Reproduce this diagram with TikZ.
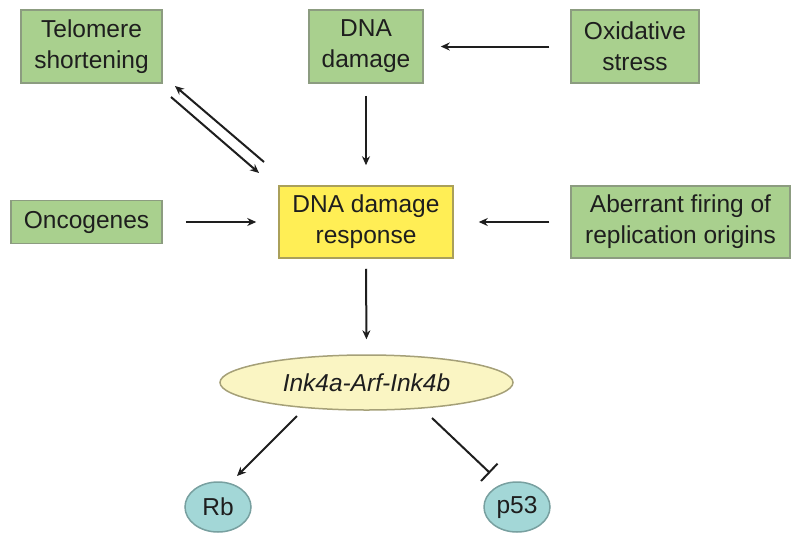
\documentclass[tikz,border=0pt]{standalone}
\usepackage{fontspec}
\setmainfont{Liberation Sans}
\usetikzlibrary{arrows.meta,shapes.geometric}
\definecolor{boxgreen}{RGB}{169,208,142}
\definecolor{boxedge}{RGB}{140,156,128}
\definecolor{ddryellow}{RGB}{255,238,85}
\definecolor{ddredge}{RGB}{170,160,90}
\definecolor{inkfill}{RGB}{250,245,195}
\definecolor{inkedge}{RGB}{165,160,120}
\definecolor{tealfill}{RGB}{163,215,215}
\definecolor{tealedge}{RGB}{120,160,160}
\definecolor{txt}{RGB}{30,30,30}
\begin{document}
\begin{tikzpicture}[x=1pt,y=-1pt,
  every node/.style={inner sep=0pt, text=txt, font=\fontsize{24.5}{31}\selectfont, align=center},
  gbox/.style={rectangle, draw=boxedge, fill=boxgreen, line width=1.5pt},
  ybox/.style={rectangle, draw=ddredge, fill=ddryellow, line width=1.5pt},
  inkell/.style={ellipse, draw=inkedge, fill=inkfill, line width=1.5pt},
  protein/.style={ellipse, draw=tealedge, fill=tealfill, line width=1.5pt, minimum width=66pt, minimum height=50pt},
  arr/.style={draw=txt, line width=2pt, -{Stealth[length=9pt,width=8pt]}},
  inh/.style={draw=txt, line width=2pt, -{Bar[width=24pt,line width=2pt]}}
]
\useasboundingbox (0,0) rectangle (800,541);
\node[gbox, minimum width=141pt, minimum height=73pt] (tel) at (91.5,46.5) {Telomere\\shortening};
\node[gbox, minimum width=114pt, minimum height=73pt] (dna) at (366,46.5) {DNA\\damage};
\node[gbox, minimum width=128pt, minimum height=73pt] (ox) at (635,46.5) {Oxidative\\stress};
\node[gbox, minimum width=151pt, minimum height=43pt] (onc) at (86.5,222) {Oncogenes};
\node[ybox, minimum width=174pt, minimum height=72pt] (ddr) at (366,222) {DNA damage\\response};
\node[gbox, minimum width=219pt, minimum height=72pt] (ab) at (680.5,222) {Aberrant firing of\\replication origins};
\node[inkell, minimum width=293pt, minimum height=55pt] (ink) at (366.5,382.5) {\itshape Ink4a-Arf-Ink4b};
\node[protein] (rb) at (218,507) {Rb};
\node[protein] (p53) at (517,507) {p53};

\coordinate (telA1) at (264,162);
\coordinate (telA2) at (175,86);
\coordinate (telB1) at (171,97);
\coordinate (telB2) at (259,173);
\coordinate (rbA) at (297,416);
\coordinate (rbB) at (237,476);
\coordinate (pA) at (432,418);
\coordinate (pB) at (490,473);

\draw[arr, shorten <=21pt, shorten >=17pt] (ox.west) -- (dna.east);
\draw[arr, shorten <=12pt, shorten >=20pt] (dna.south) -- (ddr.north);
\draw[arr, shorten <=23pt, shorten >=22pt] (onc.east) -- (ddr.west);
\draw[arr, shorten <=21pt, shorten >=25pt] (ab.west) -- (ddr.east);
\draw[arr, shorten <=10pt, shorten >=15pt] (ddr.south) -- (ink.north);
\draw[arr] (telA1) -- (telA2);
\draw[arr] (telB1) -- (telB2);
\draw[arr] (rbA) -- (rbB);
\draw[inh] (pA) -- (pB);
\end{tikzpicture}
\end{document}
